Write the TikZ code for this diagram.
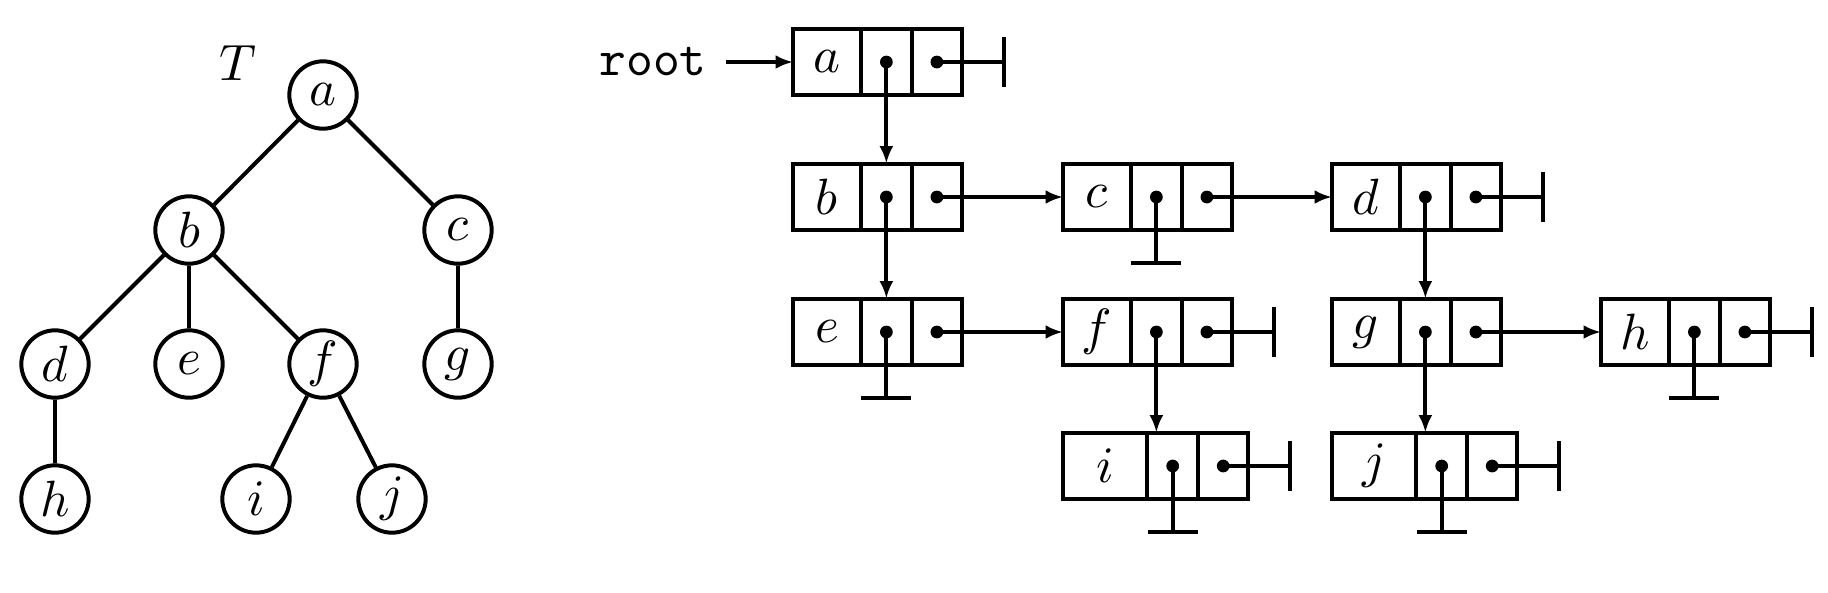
\documentclass[tikz,border=0pt]{standalone}
\usetikzlibrary{arrows.meta,calc}
\newcommand{\listcell}[5]{%
  \node[cellbox,minimum width=#5] (#1-k) at (#2,#3) {$#4$};
  \node[cellbox,minimum width=10pt] (#1-p) at (#1-k.east) {};
  \node[cellbox,minimum width=9.8pt] (#1-n) at (#1-p.east) {};
  \fill (#1-p.center) circle[radius=1.25pt] (#1-n.center) circle[radius=1.25pt];
}
\newcommand{\nilright}[1]{\draw[ln] (#1-n.center) -- ++(67,0) coordinate (#1-nr) ++(0,-25) -- ++(0,50);}
\newcommand{\nildown}[1]{\draw[ln] (#1-p.center) -- ++(0,66) coordinate (#1-nd) ++(-25,0) -- ++(50,0);}
\begin{document}
\begin{tikzpicture}[x=0.196pt,y=-0.196pt,
  ln/.style={line width=0.78pt},
  tn/.style={circle,draw,line width=0.78pt,minimum size=13.2pt,inner sep=0pt},
  cellbox/.style={draw,line width=0.78pt,minimum height=13.1pt,inner sep=0pt,outer sep=0pt,anchor=west},
  ptr/.style={line width=0.78pt,-{Latex[length=3.4pt,width=2.7pt]}}]
\useasboundingbox (0,0) rectangle (1828,592);
% tree
\node (T) at (238,63) {$T$};
\node[tn] (ta) at (323,95) {$a$};
\node[tn] (tb) at (189,230) {$b$};
\node[tn] (tc) at (458,230) {$c$};
\node[tn] (td) at (55,364) {$d$};
\node[tn] (te) at (189,364) {$e$};
\node[tn] (tf) at (323,364) {$f$};
\node[tn] (tg) at (458,364) {$g$};
\node[tn] (th) at (55,499) {$h$};
\node[tn] (ti) at (256,499) {$i$};
\node[tn] (tj) at (392,499) {$j$};
\draw[ln] (ta)--(tb) (ta)--(tc) (tb)--(td) (tb)--(te) (tb)--(tf) (tc)--(tg) (td)--(th) (tf)--(ti) (tf)--(tj);
% lists
\node[font=\ttfamily,inner xsep=3.9pt,inner ysep=0pt,outer sep=0pt] (root) at (653,62) {root};
\listcell{a}{793}{62}{a}{13.3pt}
\listcell{b}{793}{197}{b}{13.3pt}
\listcell{c}{1063}{197}{c}{13.3pt}
\listcell{d}{1332}{197}{d}{13.3pt}
\listcell{e}{793}{332}{e}{13.3pt}
\listcell{f}{1063}{332}{f}{13.3pt}
\listcell{g}{1332}{332}{g}{13.3pt}
\listcell{h}{1601}{332}{h}{13.3pt}
\listcell{i}{1063}{466}{i}{16.5pt}
\listcell{j}{1332}{466}{j}{16.5pt}
\draw[ptr] (root.east |- a-k.west) -- (a-k.west);
\draw[ptr] (a-p.center) -- (b-p.north);
\draw[ptr] (b-p.center) -- (e-p.north);
\draw[ptr] (b-n.center) -- (c-k.west);
\draw[ptr] (c-n.center) -- (d-k.west);
\draw[ptr] (d-p.center) -- (g-p.north);
\draw[ptr] (e-n.center) -- (f-k.west);
\draw[ptr] (f-p.center) -- (f-p.center |- i-k.north);
\draw[ptr] (g-p.center) -- (g-p.center |- j-k.north);
\draw[ptr] (g-n.center) -- (h-k.west);
\nilright{a}
\nildown{c}
\nilright{d}
\nildown{e}
\nilright{f}
\nildown{h}
\nilright{h}
\nildown{i}
\nilright{i}
\nildown{j}
\nilright{j}
\end{tikzpicture}
\end{document}
